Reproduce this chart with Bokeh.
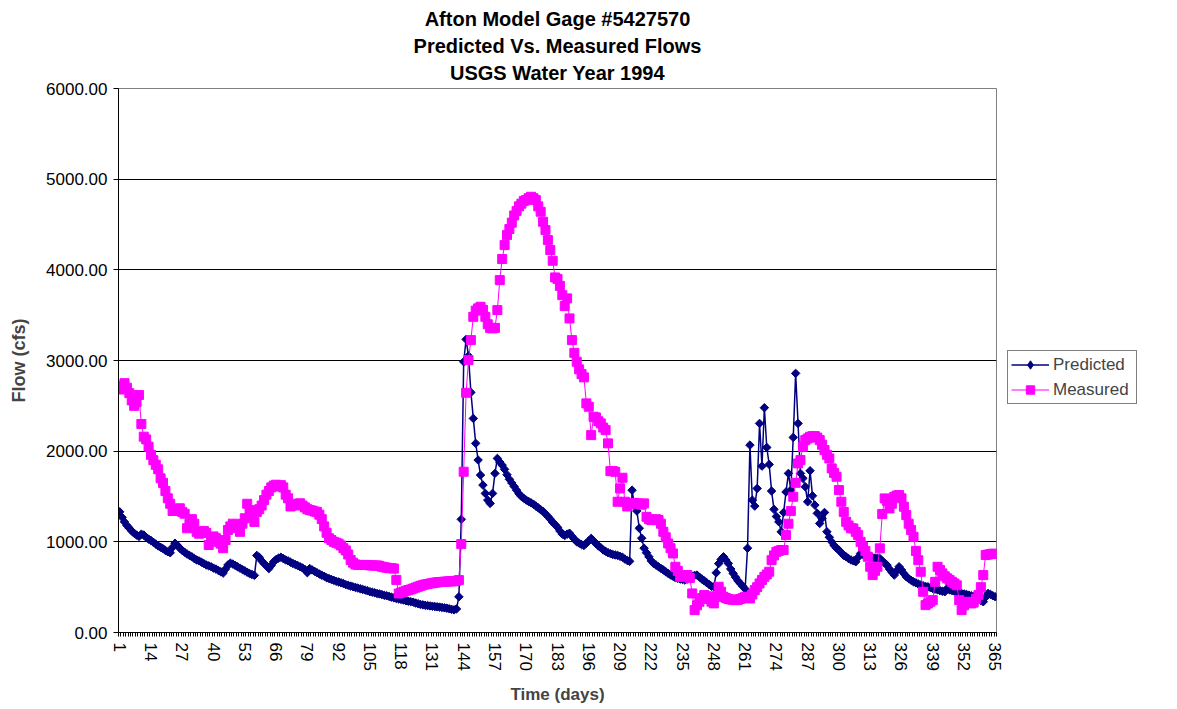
import math
from bokeh.plotting import figure
from bokeh.layouts import row
from bokeh.models import (ColumnDataSource, Range1d, FixedTicker, PrintfTickFormatter,
                          Legend, LegendItem, Title)
from bokeh.embed import file_html
from bokeh.resources import INLINE

# ---------------- data ----------------
days = list(range(1, 366))

predicted = [
    1331, 1270, 1220, 1180, 1150, 1120, 1095, 1075, 1060, 1085,   # 1-10
    1075, 1050, 1030, 1015, 995, 975, 955, 940, 925, 905,         # 11-20
    890, 880, 940, 985, 960, 930, 905, 885, 865, 850,             # 21-30
    835, 815, 800, 790, 775, 760, 745, 735, 725, 710,             # 31-40
    700, 685, 670, 655, 700, 745, 765, 755, 740, 725,             # 41-50
    710, 695, 680, 665, 650, 640, 630, 850, 830, 790,             # 51-60
    760, 735, 705, 740, 780, 805, 820, 830, 815, 800,             # 61-70
    790, 775, 762, 750, 738, 725, 712, 695, 660, 705,             # 71-80
    690, 675, 660, 645, 632, 620, 605, 595, 585, 575,             # 81-90
    565, 558, 548, 540, 528, 520, 512, 505, 497, 490,             # 91-100
    483, 475, 468, 460, 450, 445, 438, 430, 425, 418,             # 101-110
    410, 405, 398, 390, 382, 375, 370, 365, 358, 350,             # 111-120
    345, 340, 335, 325, 318, 310, 305, 300, 297, 293,             # 121-130
    290, 286, 283, 280, 276, 272, 268, 262, 255, 250,             # 131-140
    260, 394, 1248, 2986, 3233, 3050, 2648, 2361, 2086, 1902,     # 141-150
    1736, 1626, 1534, 1460, 1424, 1534, 1755, 1920, 1880, 1846,   # 151-160
    1800, 1740, 1690, 1650, 1610, 1570, 1530, 1500, 1480, 1460,   # 161-170
    1445, 1430, 1415, 1395, 1375, 1355, 1335, 1310, 1280, 1250,   # 171-180
    1215, 1190, 1160, 1120, 1085, 1070, 1085, 1095, 1060, 1030,   # 181-190
    1000, 985, 970, 960, 985, 1010, 1038, 1010, 980, 955,         # 191-200
    935, 910, 895, 880, 870, 860, 855, 850, 840, 830,             # 201-210
    810, 795, 785, 1570, 1400, 1340, 1150, 1040, 930, 880,        # 211-220
    835, 790, 760, 743, 725, 707, 690, 670, 652, 635,             # 221-230
    620, 605, 597, 590, 585, 578, 590, 605, 620, 630,             # 231-240
    633, 610, 590, 570, 550, 530, 510, 504, 659, 760,             # 241-250
    806, 835, 800, 762, 700, 652, 610, 570, 541, 510,             # 251-260
    480, 930, 2067, 1460, 1394, 1589, 2306, 1835, 2479, 2041,     # 261-270
    1854, 1560, 1358, 1280, 1221, 1111, 1324, 1550, 1755, 1571,   # 271-280
    2152, 2858, 2306, 1755, 1700, 1607, 1442, 1784, 1508, 1405,   # 281-290
    1314, 1203, 1260, 1324, 1111, 1050, 1000, 960, 930, 909,      # 291-300
    880, 850, 835, 815, 800, 790, 780, 830, 872, 860,             # 301-310
    845, 835, 830, 825, 822, 820, 817, 790, 765, 743,             # 311-320
    700, 665, 633, 680, 725, 690, 650, 614, 595, 575,             # 321-330
    559, 548, 535, 525, 515, 508, 504, 495, 485, 478,             # 331-340
    470, 462, 455, 449, 486, 470, 462, 455, 445, 438,             # 341-350
    431, 425, 420, 412, 405, 394, 380, 365, 352, 339,             # 351-360
    390, 431, 420, 405, 394,                                      # 361-365
]

measured = [
    2680, 2720, 2750, 2700, 2640, 2560, 2500, 2540, 2620, 2300,   # 1-10
    2160, 2130, 2050, 1960, 1900, 1850, 1800, 1700, 1650, 1560,   # 11-20
    1480, 1420, 1340, 1340, 1360, 1370, 1330, 1310, 1150, 1200,   # 21-30
    1250, 1200, 1110, 1090, 1100, 1120, 1100, 965, 1050, 1060,    # 31-40
    1040, 1000, 980, 930, 1020, 1130, 1170, 1200, 1180, 1150,     # 41-50
    1110, 1200, 1260, 1420, 1350, 1280, 1220, 1330, 1360, 1400,   # 51-60
    1460, 1520, 1560, 1600, 1620, 1630, 1610, 1625, 1600, 1520,   # 61-70
    1480, 1390, 1400, 1410, 1420, 1425, 1400, 1380, 1360, 1350,   # 71-80
    1345, 1335, 1330, 1300, 1250, 1170, 1100, 1040, 1020, 1000,   # 81-90
    990, 980, 960, 930, 905, 860, 800, 770, 750, 745,             # 91-100
    745, 745, 745, 745, 740, 740, 738, 740, 735, 725,             # 101-110
    720, 715, 710, 710, 705, 580, 430, 440, 450, 460,             # 111-120
    468, 475, 485, 495, 505, 515, 522, 530, 535, 540,             # 121-130
    545, 550, 553, 556, 558, 560, 562, 564, 565, 565,             # 131-140
    570, 578, 975, 1773, 2644, 3004, 3225, 3482, 3550, 3575,      # 141-150
    3593, 3560, 3482, 3400, 3360, 3354, 3360, 3556, 3887, 4119,   # 151-160
    4273, 4383, 4450, 4520, 4600, 4650, 4700, 4730, 4760, 4770,   # 161-170
    4790, 4806, 4790, 4769, 4700, 4641, 4530, 4438, 4328, 4218,   # 171-180
    4100, 3916, 3900, 3823, 3720, 3600, 3685, 3464, 3225, 3085,   # 181-190
    2986, 2902, 2850, 2814, 2527, 2490, 2177, 2380, 2372, 2330,   # 191-200
    2306, 2260, 2232, 2086, 1780, 1780, 1773, 1442, 1589, 1707,   # 201-210
    1442, 1390, 1420, 1424, 1430, 1424, 1420, 1410, 1424, 1276,   # 211-220
    1250, 1240, 1240, 1250, 1240, 1200, 1111, 1050, 982, 930,     # 221-230
    872, 725, 680, 614, 620, 630, 633, 600, 431, 247,             # 231-240
    300, 339, 380, 413, 400, 370, 340, 321, 400, 504,             # 241-250
    450, 394, 380, 370, 365, 360, 357, 360, 370, 380,             # 251-260
    394, 385, 376, 420, 468, 500, 541, 580, 614, 640,             # 261-270
    670, 798, 850, 890, 900, 909, 909, 1074, 1200, 1339,          # 271-280
    1497, 1651, 1865, 1902, 2048, 2122, 2140, 2159, 2165, 2166,   # 281-290
    2150, 2122, 2070, 2012, 1960, 1920, 1810, 1760, 1718, 1571,   # 291-300
    1442, 1330, 1221, 1180, 1150, 1148, 1110, 1074, 1000, 950,    # 301-310
    900, 835, 725, 633, 680, 725, 928, 1306, 1479, 1450,          # 311-320
    1369, 1420, 1497, 1510, 1516, 1480, 1387, 1295, 1200, 1130,   # 321-330
    1056, 900, 798, 670, 449, 302, 320, 339, 357, 559,            # 331-340
    725, 690, 652, 620, 597, 580, 559, 541, 520, 357,             # 341-350
    247, 300, 339, 330, 321, 330, 370, 413, 500, 633,             # 351-360
    854, 860, 865, 870, 865,                                      # 361-365
]

x_tick_days = [1, 14, 27, 40, 53, 66, 79, 92, 105, 118, 131, 144, 157, 170, 183,
               196, 209, 222, 235, 248, 261, 274, 287, 300, 313, 326, 339, 352, 365]
y_ticks = [0, 1000, 2000, 3000, 4000, 5000, 6000]

title_lines = ["Afton Model Gage #5427570", "Predicted Vs. Measured Flows", "USGS Water Year 1994"]
series_names = ["Predicted", "Measured"]
series_colors = ["#000080", "#FF00FF"]

assert len(predicted) == 365, len(predicted)
assert len(measured) == 365, len(measured)

FONT = "Liberation Sans"
DIAMOND = dict(marker="square", angle=math.pi / 4, size=6)   # Excel-style diamond
LEGEND_DIAMOND = dict(marker="diamond", size=10)             # legend glyphs ignore angle
SQUARE = dict(marker="square", size=9)

# ---------------- main figure ----------------
p = figure(frame_width=878, frame_height=544, output_backend="svg", toolbar_location=None,
           x_range=Range1d(0.5, 365.5), y_range=Range1d(0, 6000),
           min_border_left=118, min_border_right=10, min_border_top=88, min_border_bottom=77,
           background_fill_color="white", border_fill_color="white")

src = ColumnDataSource(dict(day=days, predicted=predicted, measured=measured))

p.line("day", "predicted", source=src, line_color=series_colors[0], line_width=1.5)
p.scatter("day", "predicted", source=src, fill_color=series_colors[0],
          line_color=series_colors[0], **DIAMOND)
p.line("day", "measured", source=src, line_color=series_colors[1], line_width=1)
p.scatter("day", "measured", source=src, fill_color=series_colors[1],
          line_color=series_colors[1], **SQUARE)

# ---------------- titles (p.title is outermost; first added is closest) ----------------
def make_title(t, standoff):
    t.align = "center"
    t.vertical_align = "top"
    t.text_font = FONT
    t.text_font_size = "20px"
    t.text_font_style = "bold"
    t.text_color = "black"
    t.standoff = standoff

p.title.text = title_lines[0]
make_title(p.title, 6)
t3 = Title(text=title_lines[2])
make_title(t3, 6)
p.add_layout(t3, "above")
t2 = Title(text=title_lines[1])
make_title(t2, 0)
p.add_layout(t2, "above")

# ---------------- axes ----------------
xa = p.xaxis[0]
xa.ticker = FixedTicker(ticks=x_tick_days, minor_ticks=[k + 0.5 for k in range(0, 366)])
xa.major_label_orientation = "vertical"
xa.major_tick_out = 0
xa.major_tick_in = 0
xa.minor_tick_out = 4
xa.minor_tick_in = 0
xa.minor_tick_line_color = "black"
xa.major_label_standoff = 6
xa.major_label_text_font = FONT
xa.major_label_text_font_size = "17px"
xa.major_label_text_color = "black"
xa.axis_label = "Time (days)"
xa.axis_label_text_font = FONT
xa.axis_label_text_font_size = "17px"
xa.axis_label_text_font_style = "bold"
xa.axis_label_standoff = 11
xa.axis_line_color = "black"

ya = p.yaxis[0]
ya.ticker = FixedTicker(ticks=y_ticks)
ya.formatter = PrintfTickFormatter(format="%.2f")
ya.major_tick_out = 5
ya.major_tick_in = 0
ya.minor_tick_out = 0
ya.minor_tick_in = 0
ya.major_label_standoff = 6
ya.major_label_text_font = FONT
ya.major_label_text_font_size = "17px"
ya.major_label_text_color = "black"
ya.axis_label = "Flow (cfs)"
ya.axis_label_text_font = FONT
ya.axis_label_text_font_size = "18px"
ya.axis_label_text_font_style = "bold"
ya.axis_label_standoff = 14
ya.axis_line_color = "black"

p.xgrid.visible = False
p.ygrid.grid_line_color = "black"
p.ygrid.grid_line_width = 1
p.outline_line_color = "#808080"
p.outline_line_width = 1

# ---------------- legend panel (a narrow companion figure to the right) ----------------
# Its ranges are set far away from the data so that only the legend shows.
lf = figure(width=171, height=709, output_backend="svg", toolbar_location=None,
            x_axis_location=None, y_axis_location=None, min_border=0,
            x_range=Range1d(-20, -10), y_range=Range1d(-20, -10),
            background_fill_color="white", border_fill_color="white")
lf.outline_line_color = None
lf.grid.visible = False
lp = lf.line("day", "predicted", source=src, line_color=series_colors[0], line_width=1.5)
sp = lf.scatter("day", "predicted", source=src, fill_color=series_colors[0],
                line_color=series_colors[0], **LEGEND_DIAMOND)
lm = lf.line("day", "measured", source=src, line_color=series_colors[1], line_width=1)
sm = lf.scatter("day", "measured", source=src, fill_color=series_colors[1],
                line_color=series_colors[1], **SQUARE)

legend = Legend(items=[LegendItem(label=series_names[0], renderers=[lp, sp]),
                       LegendItem(label=series_names[1], renderers=[lm, sm])],
                location=(1, 228), margin=0, padding=3, spacing=4,
                glyph_width=38, glyph_height=21, label_height=21, label_width=80,
                label_standoff=4, label_text_font=FONT, label_text_font_size="17px",
                border_line_color="black", border_line_width=1,
                background_fill_color="white")
lf.add_layout(legend)

layout = row(p, lf)
open("out.html", "w").write(file_html(layout, INLINE))
